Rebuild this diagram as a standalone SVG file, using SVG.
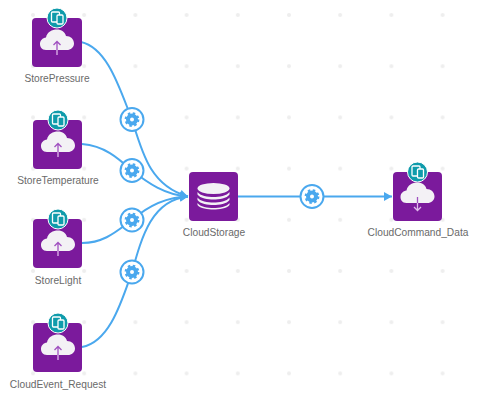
<svg xmlns="http://www.w3.org/2000/svg" width="486" height="402" viewBox="0 0 486 402">
<defs>
<style>
.box{fill:#7b1a9c}
.cloud{fill:#f3f1f5}
.a1{stroke:#a050c0;stroke-width:1.3;fill:none}
.a2{stroke:#e0b8ec;stroke-width:1.3;fill:none}
.lbl{font-family:"Liberation Sans",Arial,sans-serif;font-size:10.2px;fill:#6a6a6a;text-anchor:middle}
.conn{fill:none;stroke:#4aa8ee;stroke-width:2}
</style>
<pattern id="gridp" x="7.400" y="-10.600" width="51.200" height="51.200" patternUnits="userSpaceOnUse"><circle cx="25.600" cy="25.600" r="2" fill="#eeeeee"/></pattern>
<marker id="ah" markerUnits="userSpaceOnUse" markerWidth="9" markerHeight="10" refX="8" refY="4.500" orient="auto"><path d="M0 0L8 4.500L0 9Z" fill="#4aa8ee"/></marker>
<g id="badge">
<circle r="10" fill="#0f9bab" stroke="#fff" stroke-width="1"/>
<rect x="-5.500" y="-6" width="8" height="10" rx="1" fill="none" stroke="#fff" stroke-width="1.300"/>
<rect x="0" y="-3" width="6" height="9" rx="1" fill="#0f9bab" stroke="#fff" stroke-width="1.300"/>
</g>
<path id="cl" d="M-11 10C-15.500 10-17 6.500-17 4C-17 0.500-14.500-2-11-2.500C-10-8-5-10.500 0-10.500C4.500-10.500 8-8 9-4C13.500-4 17-1 17 3.500C17 7.500 13.500 10 10 10Z"/>
<g id="gear">
<circle r="11.500" fill="#fff" stroke="#4aa8ee" stroke-width="2"/>
<circle r="4" fill="none" stroke="#4aa8ee" stroke-width="4"/>
<circle r="6.300" fill="none" stroke="#4aa8ee" stroke-width="2.200" stroke-dasharray="2.470 2.480"/>
</g>
</defs>
<rect width="486" height="402" fill="#fff"/>
<rect id="grid" x="7" y="0" width="479" height="398" fill="url(#gridp)"/>
<g id="connectors">
<path class="conn" marker-end="url(#ah)" d="M81 42C108 48 120 90 132 119.500C142 152 150 186 188 196.500"/>
<path class="conn" marker-end="url(#ah)" d="M82 144C105 146 118 158 132 170.500C148 183 165 195 188 196.500"/>
<path class="conn" marker-end="url(#ah)" d="M82 243C105 243 118 230 132 220C148 206 165 197 188 196.500"/>
<path class="conn" marker-end="url(#ah)" d="M82 347C110 342 122 300 132 272C142 236 152 200 188 196.500"/>
<path class="conn" marker-end="url(#ah)" d="M238 196.500H392"/>
</g>
<g id="gears">
<use href="#gear" x="132" y="119.500"/><use href="#gear" x="132" y="170.500"/><use href="#gear" x="132" y="220"/><use href="#gear" x="132" y="272"/><use href="#gear" x="312" y="196.500"/>
</g>
<g id="StorePressure">
<rect class="box" x="32" y="18" width="50" height="49" rx="4"/>
<use href="#cl" class="cloud" x="57" y="40"/>
<path class="a1" d="M57 50V42M53.500 45L57 41.500L60.500 45"/><path class="a2" d="M57 50V55"/>
<use href="#badge" x="57" y="18"/>
<text class="lbl" x="57" y="82">StorePressure</text>
</g>
<g id="StoreTemperature">
<rect class="box" x="33" y="120" width="49" height="49" rx="4"/>
<use href="#cl" class="cloud" x="58" y="142"/>
<path class="a1" d="M58 152V144M54.500 147L58 143.500L61.500 147"/><path class="a2" d="M58 152V157"/>
<use href="#badge" x="58" y="120"/>
<text class="lbl" x="58" y="184">StoreTemperature</text>
</g>
<g id="StoreLight">
<rect class="box" x="33" y="219" width="49" height="49" rx="4"/>
<use href="#cl" class="cloud" x="58" y="241"/>
<path class="a1" d="M58 251V243M54.500 246L58 242.500L61.500 246"/><path class="a2" d="M58 251V256"/>
<use href="#badge" x="58" y="219"/>
<text class="lbl" x="58" y="284">StoreLight</text>
</g>
<g id="CloudEvent_Request">
<rect class="box" x="33" y="323" width="49" height="49" rx="4"/>
<use href="#cl" class="cloud" x="58" y="345"/>
<path class="a1" d="M58 355V347M54.500 350L58 346.500L61.500 350"/><path class="a2" d="M58 355V360"/>
<use href="#badge" x="58" y="323"/>
<text class="lbl" x="58" y="388">CloudEvent_Request</text>
</g>
<g id="CloudStorage">
<rect class="box" x="189" y="172" width="49" height="49" rx="4"/>
<ellipse class="cloud" cx="213.500" cy="188.500" rx="16" ry="5.500"/>
<path class="cloud" d="M197.500 192C200 196 208 197 213.500 197C219 197 227 196 229.500 192V194.500C227 198.500 219 199.500 213.500 199.500C208 199.500 200 198.500 197.500 194.500Z"/>
<path class="cloud" d="M197.500 197.500C200 201.500 208 202.500 213.500 202.500C219 202.500 227 201.500 229.500 197.500V200C227 204 219 205 213.500 205C208 205 200 204 197.500 200Z"/>
<path class="cloud" d="M197.500 203C200 207 208 208 213.500 208C219 208 227 207 229.500 203V205C227 208.500 219 209.500 213.500 209.500C208 209.500 200 208.500 197.500 205Z"/>
<text class="lbl" x="214" y="236">CloudStorage</text>
</g>
<g id="CloudCommand_Data">
<rect class="box" x="393" y="172" width="49" height="49" rx="4"/>
<use href="#cl" class="cloud" x="417.500" y="193"/>
<path class="a1" d="M417.500 197V203"/><path class="a2" d="M417.500 203V210.500M414 207L417.500 210.500L421 207"/>
<use href="#badge" x="417.500" y="172"/>
<text class="lbl" x="418" y="236">CloudCommand_Data</text>
</g>
</svg>
